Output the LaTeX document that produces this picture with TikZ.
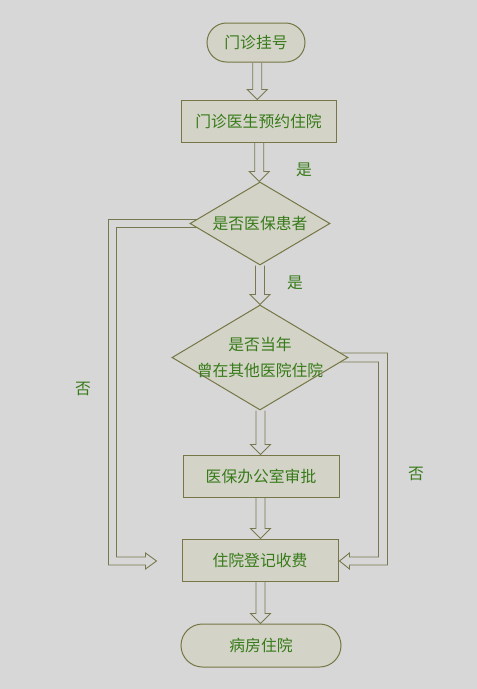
\documentclass[tikz,border=0pt]{standalone}
\usepackage{fontspec}
\newfontfamily\cjk{Noto Sans CJK SC}
\usetikzlibrary{shapes.geometric,calc,backgrounds}
\definecolor{bgc}{RGB}{215,215,215}
\definecolor{nodefill}{RGB}{211,212,199}
\definecolor{bordc}{RGB}{118,118,70}
\definecolor{txtc}{RGB}{55,122,25}
\definecolor{arrc}{RGB}{120,120,78}
\tikzset{
  box/.style={draw=bordc, fill=nodefill, line width=1pt, minimum width=155pt, minimum height=42pt, inner sep=0pt},
  term/.style={box},
  dia/.style={draw=bordc, fill=nodefill, line width=1pt, diamond, inner sep=0pt},
  txt/.style={text=txtc, font=\cjk\fontsize{15.8}{18}\selectfont},
  arrline/.style={draw=arrc, line width=0.9pt, line join=miter},
}
\newcommand\hollowdown[2]{%
  \draw[arrline] let \p1=(#1), \p2=(#2), \n1={0.5*\x1+0.5*\x2} in
  (\n1-4.5pt,\y1) -- (\n1-4.5pt,\y2+10pt) -- (\n1-10pt,\y2+10pt) -- (\n1,\y2)
  -- (\n1+10pt,\y2+10pt) -- (\n1+4.5pt,\y2+10pt) -- (\n1+4.5pt,\y1);}
\begin{document}
\begin{tikzpicture}[x=1pt,y=-1pt]
\useasboundingbox (0,0) rectangle (477,689);
% nodes
\node[term, txt, minimum width=98pt, minimum height=39pt, rounded corners=19.5pt] (start) at (256,42.5) {门诊挂号};
\node[box, txt] (reg) at (258.5,121) {门诊医生预约住院};
\node[dia, minimum width=140pt, minimum height=83pt] (d1) at (260,223.5) {};
\node[txt] (d1t) at (d1.center) {是否医保患者};
\node[dia, minimum width=176pt, minimum height=105pt] (d2) at (260,357.5) {};
\node[txt, align=center] (d2t) at (d2.center) {是否当年\\[8pt]曾在其他医院住院};
\node[box, txt, minimum width=156pt] (med) at (261,476) {医保办公室审批};
\node[box, txt, minimum width=156pt] (pay) at (260,560) {住院登记收费};
\node[term, txt, minimum width=160pt, minimum height=43pt, rounded corners=21.5pt] (ward) at (261,645.5) {病房住院};
% labels
\node[txt] (y1) at (304,170) {是};
\node[txt] (y2) at (295,283) {是};
\node[txt] (n1) at (83,389) {否};
\node[txt] (n2) at (416,474) {否};
% connectors
\begin{scope}[on background layer]
\fill[bgc] (0,0) rectangle (477,689);
\hollowdown{start.south}{reg.north}
\hollowdown{reg.south}{d1.north}
\hollowdown{d1.south}{d2.north}
\hollowdown{d2.south}{med.north}
\hollowdown{med.south}{pay.north}
\hollowdown{pay.south}{ward.north}
\draw[arrline] ($(d1.center)+(0,-4)$) -- ($(d1.west)+(-81,-4)$)
  |- ($(pay.west)+(-36,5)$) -- ($(pay.west)+(-36,9)$) -- ($(pay.west)+(-25,1)$)
  -- ($(pay.west)+(-36,-7)$) -- ($(pay.west)+(-36,-3)$)
  -| ($(d1.west)+(-73,4)$) -- ($(d1.center)+(0,4)$);
\draw[arrline] ($(d2.center)+(0,-4.5)$) -- ($(d2.east)+(39,-4.5)$)
  |- ($(pay.east)+(11,5)$) -- ($(pay.east)+(11,9)$) -- ($(pay.east)+(1,1)$)
  -- ($(pay.east)+(11,-7)$) -- ($(pay.east)+(11,-3)$)
  -| ($(d2.east)+(30,4.5)$) -- ($(d2.center)+(0,4.5)$);
\end{scope}
\end{tikzpicture}
\end{document}
